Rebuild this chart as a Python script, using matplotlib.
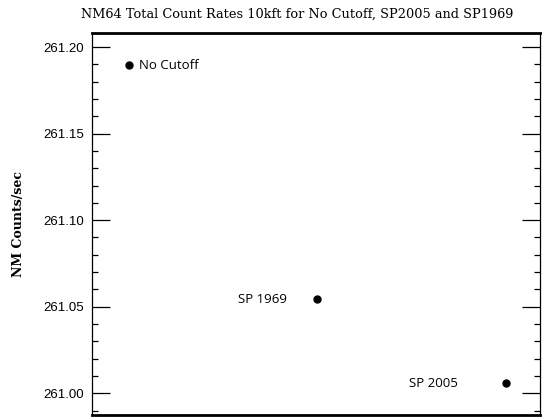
import numpy as np
import matplotlib
matplotlib.use('Agg')
import matplotlib.pyplot as plt
from matplotlib.ticker import MultipleLocator, FormatStrFormatter

# cutoff cases and their count rates
labels = ['No Cutoff', 'SP 1969', 'SP 2005']
xpos = [1, 2, 3]
rates = [261.1896, 261.0544, 261.0059]
# label offsets (points) relative to each marker
offs = [(7, 0), (-22, 0), (-35, 0)]
aligns = ['left', 'right', 'right']

fig = plt.figure(figsize=(5.5, 4.17), dpi=100)
ax = fig.add_axes([0.1673, 0.0048, 0.8145, 0.9161])

ax.plot(xpos, rates, 'o', color='black', markersize=5, linestyle='none')
for lab, x, y, o, ha in zip(labels, xpos, rates, offs, aligns):
    ax.annotate(lab, (x, y), xytext=o, textcoords='offset points',
                ha=ha, va='center', fontsize=9.5, family='Open Sans')

ax.set_xlim(0.805, 3.18)
ax.set_ylim(260.9875, 261.2081)
ax.set_xticks([])
ax.yaxis.set_major_locator(MultipleLocator(0.05))
ax.yaxis.set_minor_locator(MultipleLocator(0.01))
ax.yaxis.set_major_formatter(FormatStrFormatter('%.2f'))
ax.tick_params(axis='y', which='major', direction='in', length=13, width=0.9,
               right=True, labelsize=9.5, pad=6)
ax.tick_params(axis='y', which='minor', direction='in', length=4, width=0.9,
               right=True)
for lbl in ax.get_yticklabels():
    lbl.set_family('Liberation Sans')

for s in ['left', 'right']:
    ax.spines[s].set_linewidth(0.9)
for s in ['top', 'bottom']:
    ax.spines[s].set_linewidth(2.0)

ax.set_ylabel('NM Counts/sec', family='DejaVu Serif', fontweight='bold',
              fontsize=9, labelpad=13)
fig.text(0.54, 0.965, 'NM64 Total Count Rates 10kft for No Cutoff, SP2005 and SP1969',
         ha='center', va='center', family='DejaVu Serif', fontsize=9.3)

plt.savefig('out.png', dpi=100)
